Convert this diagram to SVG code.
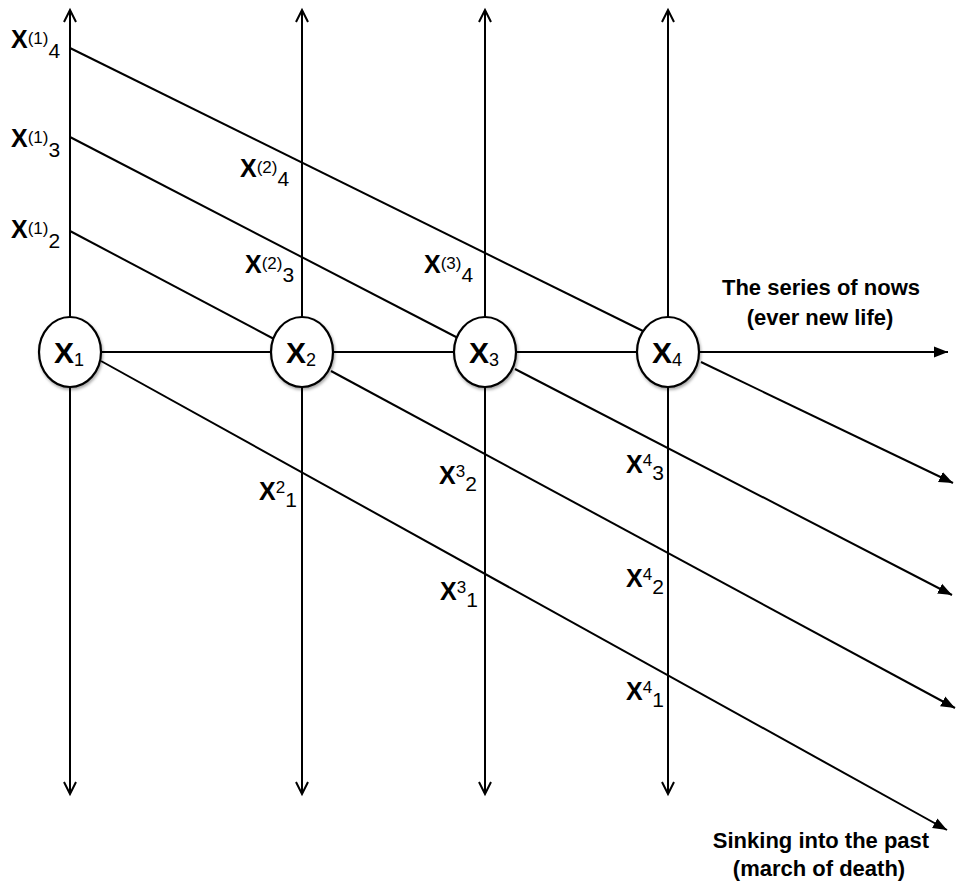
<svg xmlns="http://www.w3.org/2000/svg" width="956" height="890" viewBox="0 0 956 890">
<style>
.ln{stroke:#000;stroke-width:2;fill:none}
.nd{fill:#fff;stroke:#000;stroke-width:2.2}
.t{font-family:"Liberation Sans",Arial,sans-serif;fill:#000}
.X{font-weight:bold;font-size:25px}
.sp{font-weight:normal;font-size:17px}
.sb{font-weight:normal;font-size:21px}
.nX{font-weight:bold;font-size:30px}
.nS{font-weight:normal;font-size:18px}
.cap{font-weight:bold;font-size:22px}
</style>
<defs>
<marker id="open" markerWidth="16" markerHeight="16" refX="13" refY="8" orient="auto" markerUnits="userSpaceOnUse">
<path d="M1,2 L13,8 L1,14" fill="none" stroke="#000" stroke-width="2"/>
</marker>
<marker id="fill" markerWidth="16" markerHeight="12" refX="14" refY="6" orient="auto" markerUnits="userSpaceOnUse">
<path d="M0,0.5 L14,6 L0,11.5 Z" fill="#000"/>
</marker>
<filter id="sh" x="-30%" y="-30%" width="160%" height="160%">
<feDropShadow dx="1" dy="2" stdDeviation="1.5" flood-color="#000" flood-opacity="0.35"/>
</filter>
</defs>
<g id="connectors">
<line class="ln" x1="70" y1="400" x2="70" y2="10" marker-end="url(#open)"/>
<line class="ln" x1="70" y1="300" x2="70" y2="794" marker-end="url(#open)"/>
<line class="ln" x1="302" y1="400" x2="302" y2="10" marker-end="url(#open)"/>
<line class="ln" x1="302" y1="300" x2="302" y2="794" marker-end="url(#open)"/>
<line class="ln" x1="485" y1="400" x2="485" y2="10" marker-end="url(#open)"/>
<line class="ln" x1="485" y1="300" x2="485" y2="794" marker-end="url(#open)"/>
<line class="ln" x1="668" y1="400" x2="668" y2="10" marker-end="url(#open)"/>
<line class="ln" x1="668" y1="300" x2="668" y2="794" marker-end="url(#open)"/>
<line class="ln" x1="70" y1="352" x2="948" y2="352" marker-end="url(#fill)"/>
<line class="ln" x1="70" y1="48" x2="645" y2="332"/>
<line class="ln" x1="70" y1="137" x2="458" y2="338"/>
<line class="ln" x1="70" y1="231" x2="274" y2="339"/>
<line class="ln" x1="101" y1="361" x2="947" y2="830" marker-end="url(#fill)"/>
<line class="ln" x1="331" y1="371" x2="955" y2="708" marker-end="url(#fill)"/>
<line class="ln" x1="515" y1="369" x2="952" y2="595" marker-end="url(#fill)"/>
<line class="ln" x1="701" y1="362" x2="953" y2="483" marker-end="url(#fill)"/>
</g>
<g id="node-x1"><ellipse class="nd" filter="url(#sh)" cx="70" cy="352" rx="31" ry="35"/><text class="t" x="69" y="363" text-anchor="middle"><tspan class="nX">X</tspan><tspan class="nS" dy="3">1</tspan></text></g>
<g id="node-x2"><ellipse class="nd" filter="url(#sh)" cx="302" cy="352" rx="31" ry="35"/><text class="t" x="301" y="363" text-anchor="middle"><tspan class="nX">X</tspan><tspan class="nS" dy="3">2</tspan></text></g>
<g id="node-x3"><ellipse class="nd" filter="url(#sh)" cx="485" cy="352" rx="31" ry="35"/><text class="t" x="484" y="363" text-anchor="middle"><tspan class="nX">X</tspan><tspan class="nS" dy="3">3</tspan></text></g>
<g id="node-x4"><ellipse class="nd" filter="url(#sh)" cx="668" cy="352" rx="31" ry="35"/><text class="t" x="667" y="363" text-anchor="middle"><tspan class="nX">X</tspan><tspan class="nS" dy="3">4</tspan></text></g>
<g id="labels">
<text class="t" x="11" y="48"><tspan class="X">X</tspan><tspan class="sp" dy="-4">(1)</tspan><tspan class="sb" dy="14">4</tspan></text>
<text class="t" x="11" y="147"><tspan class="X">X</tspan><tspan class="sp" dy="-4">(1)</tspan><tspan class="sb" dy="14">3</tspan></text>
<text class="t" x="11" y="238"><tspan class="X">X</tspan><tspan class="sp" dy="-4">(1)</tspan><tspan class="sb" dy="14">2</tspan></text>
<text class="t" x="240" y="177"><tspan class="X">X</tspan><tspan class="sp" dy="-4">(2)</tspan><tspan class="sb" dy="13">4</tspan></text>
<text class="t" x="245" y="273"><tspan class="X">X</tspan><tspan class="sp" dy="-4">(2)</tspan><tspan class="sb" dy="13">3</tspan></text>
<text class="t" x="424" y="273"><tspan class="X">X</tspan><tspan class="sp" dy="-4">(3)</tspan><tspan class="sb" dy="13">4</tspan></text>
<text class="t" x="259" y="500"><tspan class="X">X</tspan><tspan class="sp" dy="-7">2</tspan><tspan class="sb" dy="14">1</tspan></text>
<text class="t" x="439" y="484"><tspan class="X">X</tspan><tspan class="sp" dy="-7">3</tspan><tspan class="sb" dy="14">2</tspan></text>
<text class="t" x="440" y="600"><tspan class="X">X</tspan><tspan class="sp" dy="-7">3</tspan><tspan class="sb" dy="14">1</tspan></text>
<text class="t" x="626" y="473"><tspan class="X">X</tspan><tspan class="sp" dy="-7">4</tspan><tspan class="sb" dy="14">3</tspan></text>
<text class="t" x="626" y="587"><tspan class="X">X</tspan><tspan class="sp" dy="-7">4</tspan><tspan class="sb" dy="14">2</tspan></text>
<text class="t" x="626" y="700"><tspan class="X">X</tspan><tspan class="sp" dy="-7">4</tspan><tspan class="sb" dy="14">1</tspan></text>
<text class="t cap" x="821" y="295" text-anchor="middle">The series of nows</text>
<text class="t cap" x="820" y="325" text-anchor="middle">(ever new life)</text>
<text class="t cap" x="821" y="848" text-anchor="middle">Sinking into the past</text>
<text class="t cap" x="819" y="876" text-anchor="middle">(march of death)</text>
</g>
</svg>
